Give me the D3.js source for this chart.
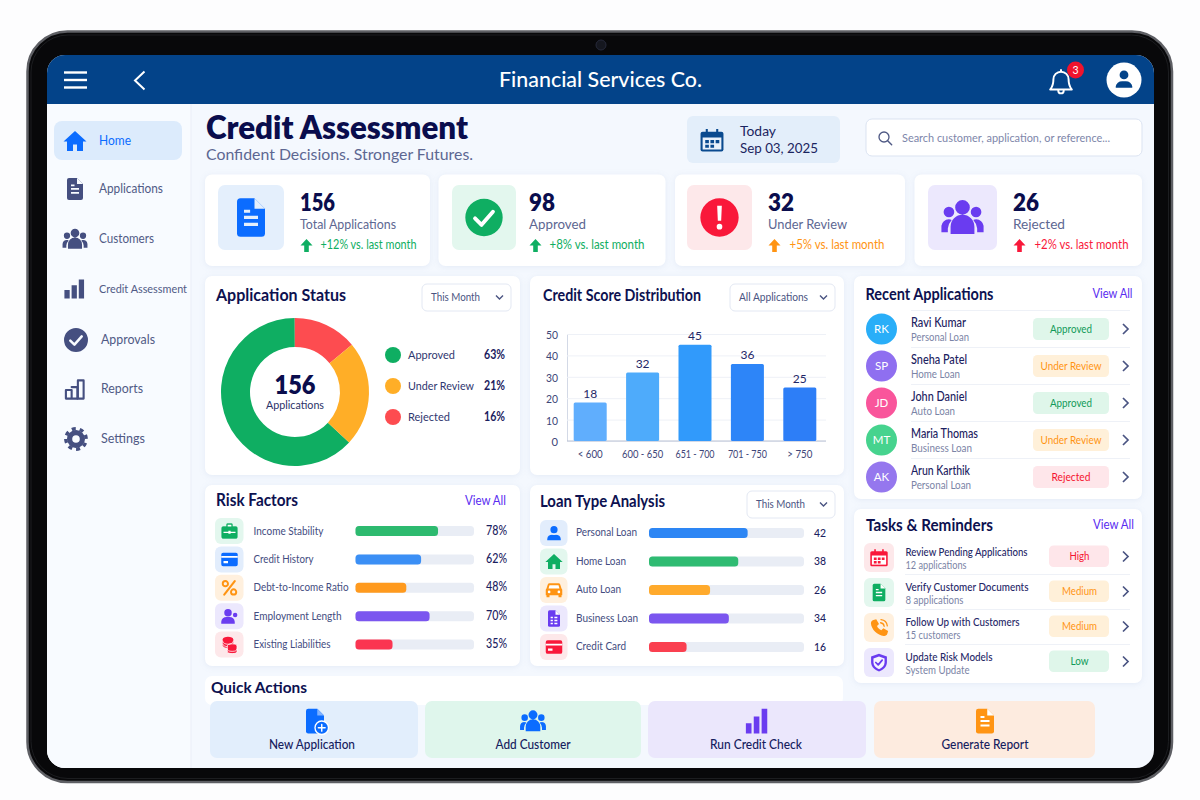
<!DOCTYPE html>
<html><head><meta charset="utf-8">
<script src="https://cdn.jsdelivr.net/npm/d3@7/dist/d3.min.js"></script>
<style>html,body{margin:0;padding:0;background:#fdfdfe;overflow:hidden}svg{display:block}
text{font-family:Lato,"Noto Sans",sans-serif;dominant-baseline:central}
.card{filter:drop-shadow(0 1px 3px rgba(70,100,170,.09))}</style></head><body>
<svg id="c" width="1200" height="800" viewBox="0 0 1200 800"></svg>
<script>
// ---- data ----
const headerTitle = "Financial Services Co.";
const notificationCount = "3";
const navLabels = ["Home","Applications","Customers","Credit Assessment","Approvals","Reports","Settings"];
const pageTitle = "Credit Assessment";
const pageSubtitle = "Confident Decisions. Stronger Futures.";
const dateLabels = ["Today","Sep 03, 2025"];
const searchHint = "Search customer, application, or reference...";
const kpiValues = [156,98,32,26];
const kpiLabels = ["Total Applications","Approved","Under Review","Rejected"];
const kpiDeltas = ["+12% vs. last month","+8% vs. last month","+5% vs. last month","+2% vs. last month"];
const statusLabels = ["Approved","Under Review","Rejected"];
const statusPercents = [63,21,16];
const sliceOrder = ["Approved","Rejected","Under Review"];
const sliceShares = [63,14,23];
const scoreBands = ["< 600","600 - 650","651 - 700","701 - 750","> 750"];
const scoreCounts = [18,32,45,36,25];
const scoreTicks = [0,10,20,30,40,50];
const riskLabels = ["Income Stability","Credit History","Debt-to-Income Ratio","Employment Length","Existing Liabilities"];
const riskValues = [78,62,48,70,35];
const loanLabels = ["Personal Loan","Home Loan","Auto Loan","Business Loan","Credit Card"];
const loanValues = [42,38,26,34,16];
const recentInitials = ["RK","SP","JD","MT","AK"];
const recentNames = ["Ravi Kumar","Sneha Patel","John Daniel","Maria Thomas","Arun Karthik"];
const recentLoans = ["Personal Loan","Home Loan","Auto Loan","Business Loan","Personal Loan"];
const recentStatus = ["Approved","Under Review","Approved","Under Review","Rejected"];
const taskTitles = ["Review Pending Applications","Verify Customer Documents","Follow Up with Customers","Update Risk Models"];
const taskSubs = ["12 applications","8 applications","15 customers","System Update"];
const taskPriority = ["High","Medium","Medium","Low"];
const actionLabels = ["New Application","Add Customer","Run Credit Check","Generate Report"];

// ---- styles ----
const navy="#0d1150", slate="#4a5482", muted="#7b84a6", purple="#5a2df0";
const GREEN="#0fae62", ORANGE="#ff9413", RED="#f9183a", BLUE="#0b6cff", VIO="#6a3cf0";
const svg=d3.select("#c");
const defs=svg.append("defs");

function t(p,x,y,s,size,o={}){
  const n=p.append("text").attr("x",x).attr("y",y-1).text(s)
    .attr("font-size",size).attr("font-weight",o.w||400).attr("fill",o.c||navy)
    .attr("text-anchor",o.a||"start");
  if(o.f) n.attr("textLength",o.f).attr("lengthAdjust","spacingAndGlyphs");
  return n;
}
function box(p,x0,y0,x1,y1,r,fill,o={}){
  return p.append("rect").attr("x",x0).attr("y",y0).attr("width",x1-x0).attr("height",y1-y0)
    .attr("rx",r).attr("fill",fill).attr("stroke",o.s||"none").attr("stroke-width",o.sw||1).attr("class",o.cl||null);
}
const circ=(x,y,r)=>`M${x-r} ${y}a${r} ${r} 0 1 0 ${2*r} 0a${r} ${r} 0 1 0 ${-2*r} 0z`;
const docBody="M6 1h8l6 6v14a2 2 0 0 1-2 2H6a2 2 0 0 1-2-2V3a2 2 0 0 1 2-2z";
const peopleD=circ(12,6.5,4)+circ(4.6,9,2.9)+circ(19.4,9,2.9)+"M5.5 21v-4a6.5 6.5 0 0 1 13 0v4z"+
  "M.5 20v-3.5a4 4 0 0 1 4-3.5c.7 0 1.2.1 1.6.3A8 8 0 0 0 4 18v2zM23.5 20v-3.5a4 4 0 0 0-4-3.5c-.7 0-1.2.1-1.6.3A8 8 0 0 1 20 18v2z";
const ICONS={
 home:c=>[{d:"M12 2 .5 12.5H4V22h6v-6.5h4V22h6v-9.500h3.500z",f:c}],
 doc:(c,k)=>[{d:docBody,f:c},{d:"M14 1v6h6z",f:k},{d:"M8 11h8v1.800H8zM8 15h8v1.800H8zM8 7.500h3.500v1.800H8z",f:k}],
 people:c=>[{d:peopleD,f:c}],
 bars:c=>[{d:"M2 13h5.500v9H2zM9.500 8h5.500v14H9.500zM17 2h5.500v20H17z",f:c}],
 check:(c,k)=>[{d:circ(12,12,11.500),f:c},{d:"M6.500 12.500l4 4 7-8",st:k,sw:2.400}],
 barsLine:c=>[{d:"M2.500 13h6v9h-6zM15 3h6v19h-6zM8.500 22h6.500",st:c,sw:2.200},{d:"M8.500 10h6v12",st:c,sw:2.200}],
 gear:(c,k)=>[{d:circ(12,12,9),f:c},{d:circ(12,12,10.200),st:c,sw:3.400,dash:"4 4"},{d:circ(12,12,3.800),f:k}],
 calendar:(c,k)=>[{d:"M3 4h18a2 2 0 0 1 2 2v15a2 2 0 0 1-2 2H3a2 2 0 0 1-2-2V6a2 2 0 0 1 2-2z",f:c},{d:"M6 1.500h2v5H6zM16 1.500h2v5h-2z",f:c},
   {d:"M3 9.500h18V21H3z",f:k},{d:"M5.500 12h3.500v3H5.500zM10.500 12h3.500v3h-3.500zM15.500 12H19v3h-3.500zM5.500 16.500h3.500v3H5.500zM10.500 16.500h3.500v3h-3.500z",f:c}],
 search:c=>[{d:circ(10.500,10.500,7.500),st:c,sw:2},{d:"M16 16l6 6",st:c,sw:2.200}],
 bell:c=>[{d:"M12 2.500a7 7 0 0 1 7 7c0 6 1.500 7.500 3 9.500H2c1.500-2 3-3.500 3-9.500a7 7 0 0 1 7-7zM9.500 20a2.500 2.500 0 0 0 5 0M12 1v1.500",st:c,sw:1.800}],
 user:c=>[{d:circ(12,7.500,4.800)+"M3 21.500v-1.500a7 6 0 0 1 7-5.500h4a7 6 0 0 1 7 5.500v1.500z",f:c}],
 alert:(c,k)=>[{d:circ(12,12,11.500),f:c},{d:"M10.600 5h2.800l-.4 9h-2zM12 15.800a1.700 1.700 0 1 1 0 3.400 1.700 1.700 0 0 1 0-3.400z",f:k}],
 brief:(c,k)=>[{d:"M8 6V3.500a1.500 1.500 0 0 1 1.500-1.500h5A1.500 1.500 0 0 1 16 3.500V6M1.500 8a2 2 0 0 1 2-2h17a2 2 0 0 1 2 2v12a2 2 0 0 1-2 2h-17a2 2 0 0 1-2-2z",f:c,st:c,sw:.500},{d:"M9.500 3.500h5V6h-5z",f:k},{d:"M4 13h6.500v-1.200h3V13H20v1.500h-6.500v1.200h-3v-1.200H4z",f:k}],
 card:(c,k)=>[{d:"M3.500 3h17A2.500 2.500 0 0 1 23 5.500v13a2.500 2.500 0 0 1-2.500 2.500h-17A2.500 2.500 0 0 1 1 18.500v-13A2.500 2.500 0 0 1 3.500 3z",f:c},{d:"M1 7.500h22v2.400H1zM4 14h6v3H4z",f:k}],
 percent:c=>[{d:circ(6.500,6.500,3.500)+circ(17.500,17.500,3.500),st:c,sw:2.600},{d:"M19 3 5 21",st:c,sw:2.800}],
 personB:c=>[{d:circ(10,7.500,5)+"M1 22v-2.500A7 7 0 0 1 8 13h4a7 7 0 0 1 7 6.500V22z"+circ(19.500,10.500,3),f:c}],
 coins:(c,k)=>[{d:"M3 5a7 3.500 0 0 1 14 0v8a7 3.500 0 0 1-14 0z",f:c},{d:"M9 14a6.500 3 0 0 1 13 0v7a6.500 3 0 0 1-13 0z",f:c,st:k,sw:1},{d:"M3 8a7 3.500 0 0 0 14 0M3 11.500a7 3.500 0 0 0 6 3.200M9 18a6.500 3 0 0 0 13 0",st:k,sw:1}],
 car:(c,k)=>[{d:"M6 3h12a2.500 2.500 0 0 1 2.300 1.600L22 10a2.500 2.500 0 0 1 1 2v7h-1v2.500h-4V19H6v2.500H2V19H1v-7a2.500 2.500 0 0 1 1-2l1.700-5.400A2.500 2.500 0 0 1 6 3z",f:c},{d:"M6 5.500h12l1.300 4.500H4.700z",f:k},{d:circ(5.500,14.500,1.800)+circ(18.500,14.500,1.800),f:k}],
 docList:(c,k)=>[{d:docBody,f:c},{d:"M14 1v6h6z",f:k},{d:"M7.500 9.500h3v2.200h-3zM12.500 9.500h4v2.200h-4zM7.500 13.500h3v2.200h-3zM12.500 13.500h4v2.200h-4zM7.500 17.500h3v2.200h-3zM12.500 17.500h4v2.200h-4z",f:k}],
 phone:(c,k)=>[{d:"M5 2.500l3.500-1 3.500 6-2.500 2.500c1 2.500 3 4.500 5.500 5.500l2.500-2.500 6 3.500-1 3.500c-.5 2-2.500 3-4.500 2.700C10 22 2.500 14.500 1.800 7 1.600 5 3 3 5 2.500z",f:c},{d:"M14 6a5 5 0 0 1 4.500 4.500M14.500 2a9 9 0 0 1 8 8",st:c,sw:1.600}],
 shield:(c,k)=>[{d:"M12 1l10 3.500v7c0 6-4.500 10-10 12-5.500-2-10-6-10-12v-7z",f:c},{d:"M12 4.500l7 2.500v5c0 4-3 7-7 8.500-4-1.500-7-4.500-7-8.500V7z",f:k},{d:"M8 12l3 3 5-6",st:c,sw:2.200}],
 docPlus:(c,k)=>[{d:docBody,f:c},{d:"M14 1v6h6z",f:"#7fb1ff"},{d:circ(18,18,6),f:c,st:k,sw:1.200},{d:"M18 15v6M15 18h6",st:k,sw:1.300}],
 barsTall:c=>[{d:"M3 14h5v9H3zM10 8h5v15h-5zM17 1h5v22h-5z",f:c}]
};
function icon(p,name,cx,cy,size,c,k="#fff"){
  const g=p.append("g").attr("transform",`translate(${cx-size/2},${cy-size/2}) scale(${size/24})`);
  ICONS[name](c,k).forEach(e=>{
    g.append("path").attr("d",e.d).attr("fill",e.f||"none").attr("stroke",e.st||"none")
     .attr("stroke-width",e.sw||0).attr("stroke-linecap",e.dash?"butt":"round").attr("stroke-linejoin","round")
     .attr("stroke-dasharray",e.dash||null);
  });
}
function chevron(p,x,y,c=slate){
  p.append("path").attr("d",`M${x-3} ${y-5}l5 5-5 5`).attr("fill","none").attr("stroke",c).attr("stroke-width",1.700);
}
function dropdown(p,x0,x1,y0,y1,s,tw){
  box(p,x0,y0,x1,y1,5,"#fff",{s:"#e3e8f3"});
  t(p,x0+9,(y0+y1)/2,s,12,{c:slate,f:tw});
  p.append("path").attr("d",`M${x1-15} ${(y0+y1)/2-2}l3.500 3.500 3.500-3.500`).attr("fill","none").attr("stroke",slate).attr("stroke-width",1.400);
}
function hbar(p,x0,x1,y,h,w,c){
  box(p,x0,y-h/2,x1,y+h/2,3.500,"#e9edf5");
  box(p,x0,y-h/2,x0+w,y+h/2,3.500,c);
}

// ---- tablet shell ----
svg.append("rect").attr("width",1200).attr("height",800).attr("fill","#fdfdfe");
box(svg,27.500,31.500,1172,782,40,"#08080a",{s:"#5e5f64",sw:2.500});
box(svg,31,35,1168.500,778.500,37,"none",{s:"#1c1d20",sw:1});
svg.append("circle").attr("cx",601).attr("cy",45).attr("r",5).attr("fill","#15171f").attr("stroke","#26293a");
defs.append("clipPath").attr("id","scr").append("rect").attr("x",47).attr("y",55).attr("width",1107).attr("height",713).attr("rx",18);
const S=svg.append("g").attr("clip-path","url(#scr)");
S.append("rect").attr("x",47).attr("y",55).attr("width",1107).attr("height",713).attr("fill","#f4f8fe");
S.append("rect").attr("x",47).attr("y",104).attr("width",144).attr("height",664).attr("fill","#f8fbff");
S.append("rect").attr("x",190.500).attr("y",104).attr("width",1).attr("height",664).attr("fill","#e9eef7");
S.append("rect").attr("x",47).attr("y",55).attr("width",1107).attr("height",49).attr("fill","#034389");

// header
[72.500,80,87.500].forEach(y=>S.append("rect").attr("x",64).attr("y",y-1.200).attr("width",23).attr("height",2.400).attr("fill","#fff"));
S.append("path").attr("d","M144.500 71.500 135 80.500l9.500 9").attr("fill","none").attr("stroke","#fff").attr("stroke-width",2);
t(S,600.500,80,headerTitle,21.500,{a:"middle",w:500,c:"#fff",f:203});
icon(S,"bell",1061,82,26,"#fff");
S.append("circle").attr("cx",1075.500).attr("cy",70).attr("r",8.500).attr("fill","#f0132d");
t(S,1075.500,70.500,notificationCount,10.500,{a:"middle",c:"#fff"});
S.append("circle").attr("cx",1124).attr("cy",80).attr("r",17.500).attr("fill","#fff");
icon(S,"user",1124,79,22,"#034389");

// sidebar
box(S,54,121,182,160,8,"#dcebfc");
const navIcons=["home","doc","people","bars","check","barsLine","gear"];
const navIconX=[75,75,75,74,76,75,76], navIconSize=[24,24,26,23,25,23,24];
const navY=[141,189,239,289,340,389,439], navX=[99,99,99,99,101,101,101];
const navW=[32,64,55,88,54,42,44];
navLabels.forEach((s,i)=>{
  const col=i?"#454f80":BLUE;
  icon(S,navIcons[i],navIconX[i],navY[i],navIconSize[i],col,"#f8fbff");
  t(S,navX[i],navY[i],s,i==3?12:13,{c:i?"#505a85":BLUE,f:navW[i]});
});

// page heading
t(S,206,127,pageTitle,32,{w:800,c:"#0a0d4d",f:262});
t(S,206,154,pageSubtitle,16,{c:"#5d6792",f:267});
box(S,687,116,840,163,6,"#e3eefa");
icon(S,"calendar",712,140,25,"#0a4a8f","#e9f1fb");
t(S,740,131.500,dateLabels[0],13.500,{c:"#1b2560",f:36});
t(S,740,149,dateLabels[1],13.500,{c:"#1b2560",f:78});
box(S,866,119,1142,156,6,"#fff",{s:"#dbe3f1"});
icon(S,"search",885,138,16,"#505a85");
t(S,902,138,searchHint,11.500,{c:"#7d86aa",f:208});

// KPI cards
const kpiCards=[[205,430],[438.500,665.500],[675,905],[914.500,1142]];
const kpiTile=[[218,284,"#e4effc"],[452,516,"#e3f7ee"],[687,752,"#fde8ea"],[928,997,"#ece8fd"]];
const kpiX=[300,529,768,1013], kpiColor=[GREEN,GREEN,ORANGE,RED];
const kpiIcon=["doc","check","alert","people"], kpiIconColor=[BLUE,GREEN,RED,VIO];
const kpiLabelW=[96,57,79,52], kpiDeltaW=[96,95,95,94], kpiValW=[35,26,26,26], kpiIconSize=[42,39,40,44];
kpiValues.forEach((v,i)=>{
  box(S,kpiCards[i][0],174.500,kpiCards[i][1],266,7,"#fff",{cl:"card"});
  box(S,kpiTile[i][0],185,kpiTile[i][1],250,7,kpiTile[i][2]);
  icon(S,kpiIcon[i],(kpiTile[i][0]+kpiTile[i][1])/2,217.500,kpiIconSize[i],kpiIconColor[i],i==0?"#e4effc":"#fff");
  t(S,kpiX[i],202,v,24,{w:800,c:"#0a0d4d",f:kpiValW[i]});
  t(S,kpiX[i],224,kpiLabels[i],14,{c:"#5d6792",f:kpiLabelW[i]});
  S.append("path").attr("d","M0 -6.500L6 0H2.300V6.500H-2.300V0H-6Z").attr("fill",kpiColor[i]).attr("transform",`translate(${kpiX[i]+6.500},245.500)`);
  t(S,kpiX[i]+(i<2?20.500:21.500),245.500,kpiDeltas[i],12.500,{c:kpiColor[i],f:kpiDeltaW[i]});
});

// Application Status
box(S,205,276,520,475,7,"#fff",{cl:"card"});
t(S,216,295,"Application Status",17,{w:700,f:130});
dropdown(S,422,511,284,311,"This Month",49);
const statusColor={"Approved":"#0fae62","Under Review":"#ffae27","Rejected":"#fd4c50"};
const pie=d3.pie().sort(null).startAngle(133*Math.PI/180).endAngle((133+360)*Math.PI/180);
const arc=d3.arc().innerRadius(45).outerRadius(74);
S.append("g").attr("transform","translate(295,392)").selectAll("path").data(pie(sliceShares)).join("path")
  .attr("d",arc).attr("fill",(d,i)=>statusColor[sliceOrder[i]]);
t(S,295,384,kpiValues[0],27,{a:"middle",w:800,c:"#0a0d4d",f:41});
t(S,295,405,"Applications",11.500,{a:"middle",c:"#2a3268",f:58});
const legY=[355,386,417], legW=[47,66,42];
statusLabels.forEach((s,i)=>{
  S.append("circle").attr("cx",393).attr("cy",legY[i]).attr("r",8).attr("fill",statusColor[s]);
  t(S,408,legY[i],s,12,{c:"#2f3770",f:legW[i]});
  t(S,505,legY[i],statusPercents[i]+"%",13,{a:"end",w:700,c:"#1b2160",f:21});
});

// Credit Score Distribution
box(S,530,276,844,475,7,"#fff",{cl:"card"});
t(S,543,295,"Credit Score Distribution",17,{w:700,f:158});
dropdown(S,730,835,284,311,"All Applications",69);
const x=d3.scaleBand().domain(scoreBands).range([564,826]).paddingInner(.37).paddingOuter(.185);
const y=d3.scaleLinear().domain([0,50]).range([441,334]);
const yAxis=S.append("g").attr("transform","translate(567,0)").call(d3.axisLeft(y).tickValues(scoreTicks).tickSizeInner(-259).tickSizeOuter(0).tickPadding(9));
yAxis.select(".domain").attr("stroke","#d3d9e6");
yAxis.selectAll("line").attr("stroke","#eef1f7");
yAxis.selectAll("text").attr("font-size",12).attr("fill","#3e4678").attr("dy",0).style("font-family","Lato")
  .attr("textLength",d=>d?12:6.500).attr("lengthAdjust","spacingAndGlyphs");
const xAxis=S.append("g").attr("transform","translate(0,441)").call(d3.axisBottom(x).tickSize(0).tickPadding(9));
xAxis.select(".domain").attr("stroke","#b9c1d3").attr("d","M567 0H826");
const xLabelW=[25,41,39,39,25];
xAxis.selectAll("text").attr("font-size",11.500).attr("fill","#3e4678").attr("dy",".32em").style("font-family","Lato")
  .attr("textLength",(d,i)=>xLabelW[i]).attr("lengthAdjust","spacingAndGlyphs");
const barCols=["#60aefd","#4eabfb","#319afb","#2d85f8","#2d7ef7"];
S.selectAll("rect.b").data(scoreCounts).join("rect").attr("class","b")
  .attr("x",(d,i)=>x(scoreBands[i])).attr("y",d=>y(d)).attr("width",x.bandwidth()).attr("height",d=>y(0)-y(d))
  .attr("rx",1.500).attr("fill",(d,i)=>barCols[i]);
S.selectAll("text.bl").data(scoreCounts).join("text").attr("class","bl")
  .attr("x",(d,i)=>x(scoreBands[i])+x.bandwidth()/2).attr("y",d=>y(d)-9).attr("text-anchor","middle")
  .attr("font-size",12).attr("fill","#1f2767").text(d=>d);

// Risk Factors
box(S,205,485,520,666,7,"#fff",{cl:"card"});
t(S,216,501,"Risk Factors",16.500,{w:700,f:82});
t(S,465,501,"View All",12.500,{c:purple,f:41});
const riskX=d3.scaleLinear().domain([0,112]).range([0,118.500]);
const riskIcons=["brief","card","percent","personB","coins"], riskCols=["#2dba6f","#3b8ff5","#ff9a1e","#7b56ef","#fb3551"];
const riskIconCols=[GREEN,BLUE,ORANGE,VIO,RED], riskTiles=["#e3f7ee","#e2edfc","#fff0de","#ece8fd","#fde8ea"];
const riskW=[70,60,95,88,77];
riskLabels.forEach((s,i)=>{
  const yy=531+i*28.400;
  box(S,215,yy-13,243.500,yy+13,6,riskTiles[i]);
  icon(S,riskIcons[i],229.500,yy,18,riskIconCols[i],"#fff");
  t(S,253.500,yy,s,12,{c:"#434c80",f:riskW[i]});
  hbar(S,355.500,474,yy,10,riskX(riskValues[i]),riskCols[i]);
  t(S,507,yy,riskValues[i]+"%",12.500,{a:"end",c:"#1b2160",w:500,f:21});
});

// Loan Type Analysis
box(S,530,485,844,666,7,"#fff",{cl:"card"});
t(S,540,501,"Loan Type Analysis",17,{w:700,f:125});
dropdown(S,747,835,491,518,"This Month",49);
const loanX=d3.scaleLinear().domain([0,66]).range([0,155]);
const loanIcons=["user","home","car","docList","card"], loanCols=["#2d86f4","#2fbb72","#ffaa2c","#7b56ef","#fa4050"];
const loanIconCols=[BLUE,GREEN,ORANGE,VIO,RED], loanTiles=["#e2edfc","#e3f7ee","#fff0de","#ece8fd","#fde8ea"], loanW=[61,50,45,62,50];
loanLabels.forEach((s,i)=>{
  const yy=533+i*28.500;
  box(S,540,yy-13,567.500,yy+13,6,loanTiles[i]);
  icon(S,loanIcons[i],554,yy,18,loanIconCols[i],"#fff");
  t(S,576,yy-.500,s,12,{c:"#434c80",f:loanW[i]});
  hbar(S,649,804,yy,10,loanX(loanValues[i]),loanCols[i]);
  t(S,820,yy,loanValues[i],12,{a:"middle",c:"#1b2160",w:500,f:12});
});

// Recent Applications
const badge={"Approved":["#dff6ea","#109a58"],"Under Review":["#fff0d9","#ff9413"],"Rejected":["#fee6ea","#f5142f"],
  "High":["#fee6ea","#f5142f"],"Medium":["#fff0d9","#ff9413"],"Low":["#dff6ea","#109a58"]};
box(S,854,276,1142,499,7,"#fff",{cl:"card"});
t(S,865.500,294,"Recent Applications",17,{w:700,f:128});
t(S,1092.500,294,"View All",12.500,{c:purple,f:40});
const avCols=["#29aef8","#8f6ff0","#f9559b","#46d38e","#9577ee"], nameW=[55,56,56,67,59], subW=[58,49,44,61,60], statusW=[42,61,42,61,39];
recentNames.forEach((s,i)=>{
  const yy=329+i*37;
  S.append("rect").attr("x",911).attr("y",yy-19).attr("width",219).attr("height",1).attr("fill","#eef1f7");
  S.append("circle").attr("cx",881.500).attr("cy",yy).attr("r",15.500).attr("fill",avCols[i]);
  t(S,881.500,yy,recentInitials[i],11.500,{a:"middle",c:"#fff"});
  t(S,911,yy-6,s,12.500,{c:"#1b2160",w:500,f:nameW[i]});
  t(S,911,yy+8,recentLoans[i],11,{c:muted,f:subW[i]});
  const b=badge[recentStatus[i]];
  box(S,1033,yy-11,1109,yy+11,4.500,b[0]);
  t(S,1071,yy,recentStatus[i],11.500,{a:"middle",c:b[1],f:statusW[i]});
  chevron(S,1126,yy);
});

// Tasks & Reminders
box(S,854,509,1142,683,7,"#fff",{cl:"card"});
t(S,866,525,"Tasks & Reminders",17,{w:700,f:127});
t(S,1093,525,"View All",12.500,{c:purple,f:41});
const taskIcons=["calendar","doc","phone","shield"], taskTile=["#fde8ea","#e3f7ee","#fff0de","#ece8fd"], taskCols=[RED,GREEN,ORANGE,VIO];
const taskW=[122,123,114,87], subTW=[61,58,55,64], prioW=[20,35,35,18];
taskTitles.forEach((s,i)=>{
  const yy=557.500+i*35;
  box(S,864,yy-14.500,894,yy+14.500,6,taskTile[i]);
  icon(S,taskIcons[i],879,yy,19,taskCols[i],i==3?"#f6f4ff":"#fff");
  t(S,905.500,yy-5.500,s,12,{c:"#1f2767",w:500,f:taskW[i]});
  t(S,905.500,yy+8,taskSubs[i],11,{c:muted,f:subTW[i]});
  const b=badge[taskPriority[i]];
  box(S,1049,yy-12,1109,yy+9.500,4.500,b[0]);
  t(S,1079.500,yy-1,taskPriority[i],12,{a:"middle",c:b[1],f:prioW[i]});
  chevron(S,1126,yy-1);
  if(i<3) S.append("rect").attr("x",905).attr("y",yy+16.500).attr("width",225).attr("height",1).attr("fill","#eef1f7");
});

// Quick Actions
box(S,205,676,843,705,7,"#fff");
t(S,211,687,"Quick Actions",16,{w:700,f:96});
const actBox=[[210,418,"#e2eefc"],[425,641,"#dff6ec"],[648,866,"#ebe7fc"],[874,1095,"#fdebdf"]];
const actIcon=["docPlus","people","barsTall","doc"], actCol=[BLUE,BLUE,VIO,ORANGE], actX=[312,533,756,985], actW=[86,75,92,87];
actionLabels.forEach((s,i)=>{
  box(S,actBox[i][0],701,actBox[i][1],758,7,actBox[i][2]);
  icon(S,actIcon[i],actX[i]+(i==0?3:0),721,27,actCol[i],"#fff");
  t(S,actX[i],744.500,s,13,{a:"middle",c:"#15205e",w:500,f:actW[i]});
});
</script></body></html>
